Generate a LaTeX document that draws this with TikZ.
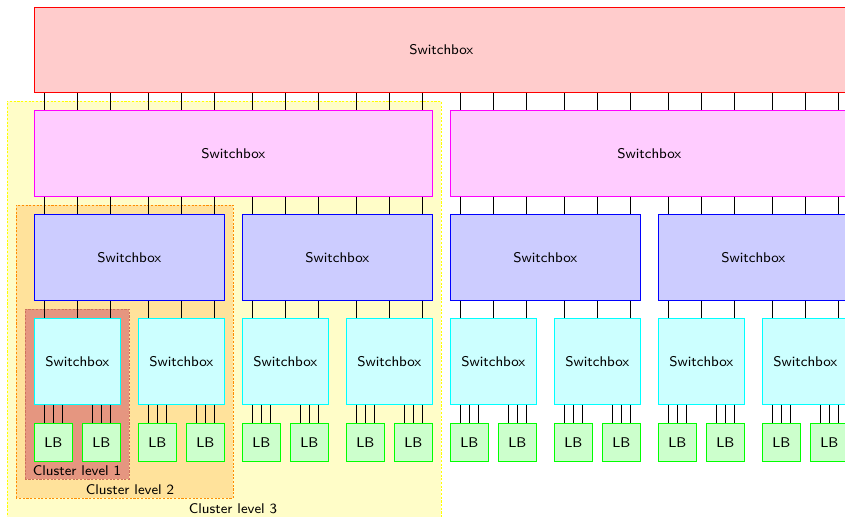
\documentclass[tikz,border=0pt]{standalone}
\usepackage{tikz}
\usetikzlibrary{positioning}
\definecolor{sbred}{RGB}{255,0,0}
\definecolor{sbmagenta}{RGB}{255,0,255}
\definecolor{sbblue}{RGB}{0,0,255}
\definecolor{sbcyan}{RGB}{0,255,255}
\definecolor{sbgreen}{RGB}{0,255,0}
\definecolor{clone}{RGB}{229,150,128}
\definecolor{clonedraw}{RGB}{205,112,92}
\definecolor{cltwo}{RGB}{255,226,155}
\definecolor{cltwodraw}{RGB}{255,140,0}
\definecolor{clthree}{RGB}{255,253,200}
\definecolor{clthreedraw}{RGB}{255,255,0}

\begin{document}
\begin{tikzpicture}[
    font=\sffamily\footnotesize,
    sbox/.style={draw=#1, fill=#1!20, inner sep=0pt, anchor=north west},
    lbox/.style={draw=sbgreen, fill=sbgreen!20, inner sep=0pt, anchor=north west,
      minimum width=0.76cm, minimum height=0.76cm},
    cluster/.style={draw=#1, line width=0.5pt, dash pattern=on 1.2pt off 0.9pt},
    wire/.style={black, line width=0.5pt}
  ]
  \useasboundingbox (0,0) rectangle (16.9,10.32);
  \clip (0,0) rectangle (16.9,10.32);

  % Cluster backgrounds
  \draw[cluster=clthreedraw, fill=clthree] (0.14,-0.2) rectangle (8.82,8.3);
  \draw[cluster=cltwodraw, fill=cltwo] (0.32,0.36) rectangle (4.66,6.22);
  \draw[cluster=clonedraw, fill=clone] (0.5,0.74) rectangle (2.58,4.14);
  \node (cl1) at (1.54,0.9) {Cluster level 1};
  \node (cl2) at (2.6,0.52) {Cluster level 2};
  \node (cl3) at (4.66,0.15) {Cluster level 3};

  % Switchbox levels
  \node[sbox=sbred, minimum width=16.28cm, minimum height=1.7cm] (rd) at (0.68,10.18) {Switchbox};
  \foreach \m in {0,1}
    \node[sbox=sbmagenta, minimum width=7.96cm, minimum height=1.72cm] (mg\m) at ({0.68+8.32*\m},8.12) {Switchbox};
  \foreach \b in {0,...,3}
    \node[sbox=sbblue, minimum width=3.8cm, minimum height=1.72cm] (bl\b) at ({0.68+4.16*\b},6.04) {Switchbox};
  \foreach \c in {0,...,7} {
    \node[sbox=sbcyan, minimum width=1.72cm, minimum height=1.72cm] (cy\c) at ({0.68+2.08*\c},3.96) {Switchbox};
    \foreach \s in {0,1}
      \node[lbox] (lb\c\s) at ({0.68+2.08*\c+0.96*\s},1.86) {LB};
  }

  % Wires, three per column
  \foreach \c in {0,...,7} {
    \pgfmathtruncatemacro\b{\c/2}
    \pgfmathtruncatemacro\m{\c/4}
    \foreach \a/\d in {north west/0.2cm, north/0cm, north east/-0.2cm} {
      \draw[wire] ([xshift=\d]cy\c.\a |- rd.south) -- ([xshift=\d]cy\c.\a |- mg\m.north);
      \draw[wire] ([xshift=\d]cy\c.\a |- mg\m.south) -- ([xshift=\d]cy\c.\a |- bl\b.north);
      \draw[wire] ([xshift=\d]cy\c.\a |- bl\b.south) -- ([xshift=\d]cy\c.\a);
      \foreach \s in {0,1}
        \draw[wire] ([xshift=\d]lb\c\s.\a |- cy\c.south) -- ([xshift=\d]lb\c\s.\a);
    }
  }
\end{tikzpicture}
\end{document}
